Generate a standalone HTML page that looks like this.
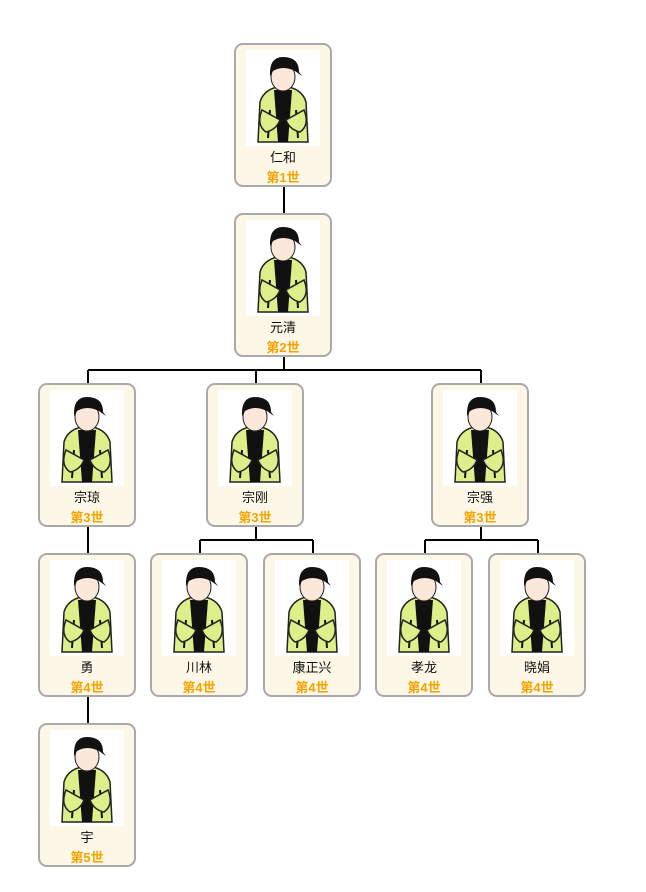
<!DOCTYPE html>
<html><head><meta charset="utf-8"><style>
body{margin:0;width:646px;height:892px;background:#fff;position:relative;font-family:"Liberation Sans","Noto Sans CJK SC",sans-serif;overflow:hidden}
.n{position:absolute;width:94px;height:140px;border:2px solid #a9a9a9;border-radius:9px;background:#fdf7e7;box-sizing:content-box}
.n .img{position:absolute;left:10px;top:5px;width:74px;height:96px;background:#fff}
.n .nm{position:absolute;top:102px;width:100%;text-align:center;font-size:13px;color:#111}
.n .g{position:absolute;top:122px;width:100%;text-align:center;font-size:13px;color:#f5a300;font-weight:bold}
svg.l{position:absolute;left:0;top:0}
</style></head><body>
<svg width="0" height="0" style="position:absolute"><defs>
<g id="p">
<path d="M14 52 Q18 38 37 36 Q56 38 60 52 L62 92 L12 92 Z" fill="#dcef8a" stroke="#222" stroke-width="1.5"/>
<path d="M28 40 L32 92 L42 92 L46 40 Z" fill="#111"/>
<path d="M22 88 L24 60 M52 88 L50 60" stroke="#111" stroke-width="2"/>
<path d="M16 60 Q10 75 20 82 Q30 80 34 70 Z" fill="#dcef8a" stroke="#222" stroke-width="1.5"/>
<path d="M58 60 Q64 75 54 82 Q44 80 40 70 Z" fill="#dcef8a" stroke="#222" stroke-width="1.5"/>
<ellipse cx="37" cy="27" rx="12" ry="14" fill="#fbe8da" stroke="#222" stroke-width="1"/>
<path d="M24 26 Q23 7 37 7 Q53 7 53 22 L56 26 L49 21 Q37 15 27 21 Z" fill="#111"/>
</g></defs></svg>
<svg class="l" width="646" height="892" fill="none" stroke="#000" stroke-width="2">
<path d="M284 187V213M284 357V370M88 370H481M88 370V383M256 370V383M481 370V383M88 527V553M256 527V540M200 540H313M200 540V553M313 540V553M481 527V540M425 540H538M425 540V553M538 540V553M88 697V723"/>
</svg>
<div class="n" style="left:234px;top:43px"><svg class="img" viewBox="0 0 74 96"><use href="#p"/></svg><div class="nm">仁和</div><div class="g">第1世</div></div>
<div class="n" style="left:234px;top:213px"><svg class="img" viewBox="0 0 74 96"><use href="#p"/></svg><div class="nm">元清</div><div class="g">第2世</div></div>
<div class="n" style="left:38px;top:383px"><svg class="img" viewBox="0 0 74 96"><use href="#p"/></svg><div class="nm">宗琼</div><div class="g">第3世</div></div>
<div class="n" style="left:206px;top:383px"><svg class="img" viewBox="0 0 74 96"><use href="#p"/></svg><div class="nm">宗刚</div><div class="g">第3世</div></div>
<div class="n" style="left:431px;top:383px"><svg class="img" viewBox="0 0 74 96"><use href="#p"/></svg><div class="nm">宗强</div><div class="g">第3世</div></div>
<div class="n" style="left:38px;top:553px"><svg class="img" viewBox="0 0 74 96"><use href="#p"/></svg><div class="nm">勇</div><div class="g">第4世</div></div>
<div class="n" style="left:150px;top:553px"><svg class="img" viewBox="0 0 74 96"><use href="#p"/></svg><div class="nm">川林</div><div class="g">第4世</div></div>
<div class="n" style="left:263px;top:553px"><svg class="img" viewBox="0 0 74 96"><use href="#p"/></svg><div class="nm">康正兴</div><div class="g">第4世</div></div>
<div class="n" style="left:375px;top:553px"><svg class="img" viewBox="0 0 74 96"><use href="#p"/></svg><div class="nm">孝龙</div><div class="g">第4世</div></div>
<div class="n" style="left:488px;top:553px"><svg class="img" viewBox="0 0 74 96"><use href="#p"/></svg><div class="nm">晓娟</div><div class="g">第4世</div></div>
<div class="n" style="left:38px;top:723px"><svg class="img" viewBox="0 0 74 96"><use href="#p"/></svg><div class="nm">宇</div><div class="g">第5世</div></div>
</body></html>
